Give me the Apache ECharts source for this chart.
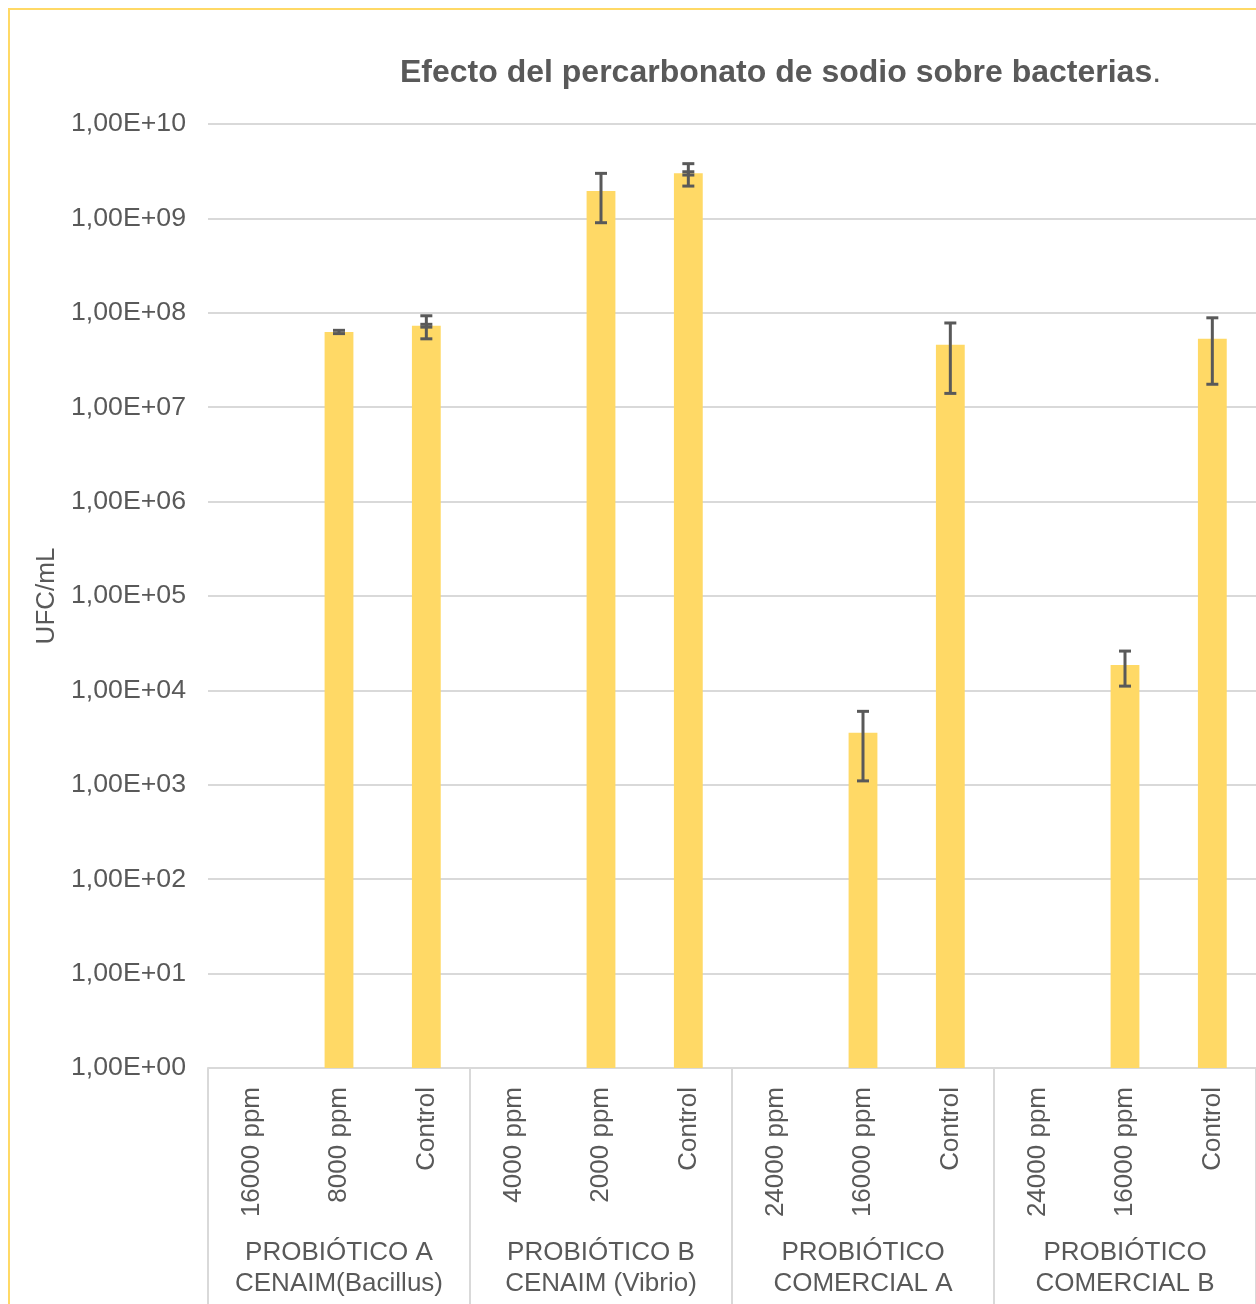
<!DOCTYPE html>
<html>
<head>
<meta charset="utf-8">
<script src="https://cdn.jsdelivr.net/npm/echarts@6/dist/echarts.min.js"></script>
<style>html,body{margin:0;padding:0;background:#fff;}#c{width:1256px;height:1304px;}</style>
</head>
<body>
<div id="c"></div>
<script>
const titleText = 'Efecto del percarbonato de sodio sobre bacterias';
const yAxisName = 'UFC/mL';
const subCategories = ['16000 ppm','8000 ppm','Control','4000 ppm','2000 ppm','Control','24000 ppm','16000 ppm','Control','24000 ppm','16000 ppm','Control'];
const groups = ['PROBIÓTICO A\nCENAIM(Bacillus)','PROBIÓTICO B\nCENAIM (Vibrio)','PROBIÓTICO\nCOMERCIAL A','PROBIÓTICO\nCOMERCIAL B'];
const values = [null, 6.27e7, 7.3e7, null, 1.95e9, 3.0e9, null, 3.55e3, 4.6e7, null, 1.86e4, 5.3e7];
const errors = [null, 2.5e6, 2.0e7, null, 1.05e9, 0.8e9, null, 2.45e3, 3.2e7, null, 7.5e3, 3.55e7];
const errors2 = [null, null, 2.5e6, null, null, 1.2e8, null, null, null, null, null, null];
const yMin = 1, yMax = 1e10;

const textColor = '#595959';
const gridColor = '#d9d9d9';
const barColor = '#FFD966';
const font = 'Liberation Sans, Arial, sans-serif';

const errData = [];
values.forEach((v, i) => {
  if (v != null && errors[i] != null) errData.push([i, v - errors[i], v + errors[i]]);
  if (v != null && errors2[i] != null) errData.push([i, v - errors2[i], v + errors2[i]]);
});

const chart = echarts.init(document.getElementById('c'));
chart.setOption({
  backgroundColor: '#fff',
  animation: false,
  textStyle: { fontFamily: font },
  title: {
    text: '{b|' + titleText + '}{n|.}',
    left: 400, top: 57, padding: 0,
    textStyle: {
      rich: {
        b: { fontSize: 32, fontWeight: 'bold', color: textColor, fontFamily: font },
        n: { fontSize: 32, fontWeight: 'normal', color: textColor, fontFamily: font }
      }
    }
  },
  graphic: [{
    type: 'rect', shape: { x: 9, y: 9, width: 1400, height: 1400 },
    style: { fill: 'none', stroke: barColor, lineWidth: 2 }, silent: true
  }],
  grid: { left: 208, top: 124, width: 1049, height: 944 },
  xAxis: [{
    type: 'category', data: subCategories, position: 'bottom',
    axisLine: { show: true, lineStyle: { color: gridColor, width: 2 } },
    axisTick: { show: false },
    axisLabel: { rotate: 90, margin: 19, fontSize: 26, color: textColor, fontFamily: font, interval: 0, padding: [0, 0, 0, 0] }
  }, {
    type: 'category', data: groups, position: 'bottom',
    axisLine: { show: false },
    axisTick: { show: true, length: 240, lineStyle: { color: gridColor, width: 2 } },
    axisLabel: { margin: 169, fontSize: 26, lineHeight: 31, color: textColor, fontFamily: font, interval: 0 }
  }],
  yAxis: {
    type: 'log', logBase: 10, min: yMin, max: yMax, interval: 1, splitNumber: 10,
    name: yAxisName, nameLocation: 'middle', nameGap: 146, nameRotate: 90,
    nameTextStyle: { fontSize: 26, color: textColor, fontFamily: font },
    axisLine: { show: false }, axisTick: { show: false },
    splitLine: { show: true, lineStyle: { color: gridColor, width: 2 } },
    axisLabel: {
      margin: 22, fontSize: 26.7, color: textColor, fontFamily: font, padding: [4, 0, 0, 0],
      formatter: v => { const e = Math.round(Math.log10(v)); return '1,00E+' + (e < 10 ? '0' + e : e); }
    }
  },
  series: [{
    type: 'bar', xAxisIndex: 0, data: values.map(v => v == null ? '-' : v),
    barWidth: '33%', itemStyle: { color: barColor }
  }, {
    type: 'custom', xAxisIndex: 0, data: errData, z: 5,
    renderItem: function (params, api) {
      const x = api.value(0);
      const lo = api.coord([x, api.value(1)]);
      const hi = api.coord([x, api.value(2)]);
      const hw = 6;
      const st = { stroke: textColor, lineWidth: 3 };
      return { type: 'group', children: [
        { type: 'line', shape: { x1: hi[0], y1: hi[1], x2: lo[0], y2: lo[1] }, style: st },
        { type: 'line', shape: { x1: hi[0] - hw, y1: hi[1], x2: hi[0] + hw, y2: hi[1] }, style: st },
        { type: 'line', shape: { x1: lo[0] - hw, y1: lo[1], x2: lo[0] + hw, y2: lo[1] }, style: st }
      ]};
    }
  }]
});
</script>
</body>
</html>
